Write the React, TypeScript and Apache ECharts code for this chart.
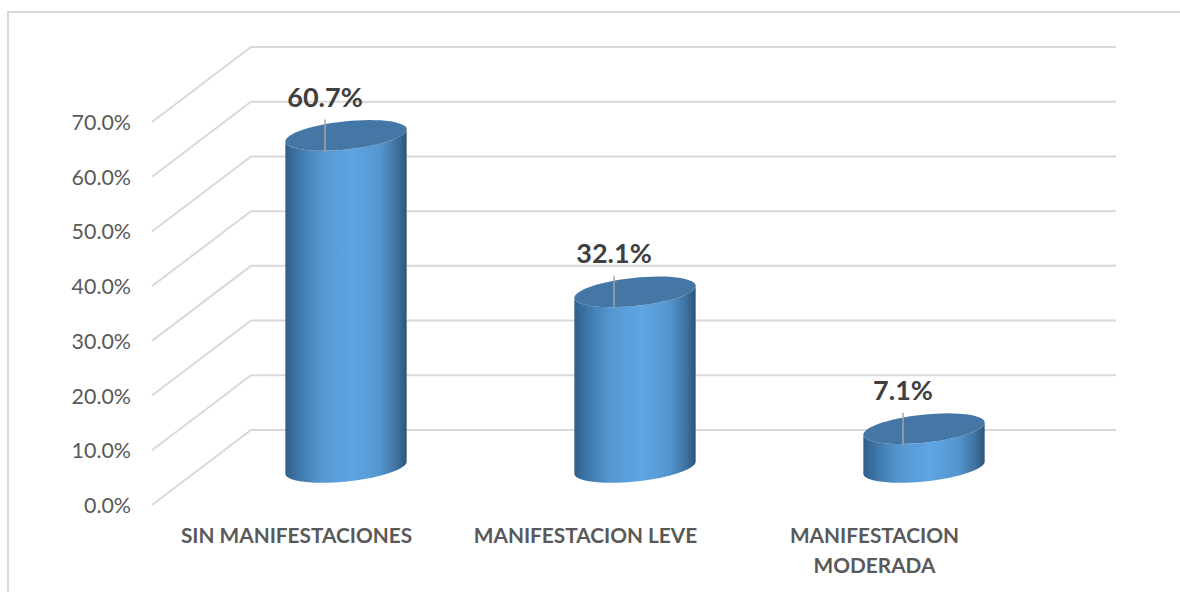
import React, { useEffect, useRef } from "react";
import * as echarts from "echarts";

const categories = ["SIN MANIFESTACIONES", "MANIFESTACION LEVE", "MANIFESTACION\nMODERADA"];
const values = [60.7, 32.1, 7.1];
const ticks = [0, 10, 20, 30, 40, 50, 60, 70];

const DEPTH_X = 99;
const DEPTH_Y = -75;
const RX = 61;
const RY = 14;
const TILT = (6 * Math.PI) / 180;

function ellipsePoint(cx: number, cy: number, t: number) {
  const a = RX * Math.cos(t);
  const b = RY * Math.sin(t);
  return [cx + a * Math.cos(TILT) + b * Math.sin(TILT), cy - a * Math.sin(TILT) + b * Math.cos(TILT)];
}

function arc(cx: number, cy: number, from: number, to: number, n = 60) {
  const pts: number[][] = [];
  for (let i = 0; i <= n; i++) pts.push(ellipsePoint(cx, cy, from + ((to - from) * i) / n));
  return pts;
}

function renderWall(params: any, api: any) {
  const cs = params.coordSys;
  const p = api.coord([0, api.value(1)]);
  const left = cs.x;
  const right = cs.x + cs.width + DEPTH_X - 2;
  return {
    type: "polyline",
    silent: true,
    shape: { points: [[left, p[1]], [left + DEPTH_X, p[1] + DEPTH_Y], [right, p[1] + DEPTH_Y]] },
    style: { stroke: "#d9d9d9", lineWidth: 2, fill: "none" },
  };
}

function renderCylinder(params: any, api: any) {
  const top = api.coord([api.value(0), api.value(1)]);
  const base = api.coord([api.value(0), 0]);
  const cx = top[0] + DEPTH_X / 2;
  const cyTop = top[1] + DEPTH_Y / 2;
  const cyBase = base[1] + DEPTH_Y / 2;
  const body = [...arc(cx, cyTop, Math.PI, 0), ...arc(cx, cyBase, 0, Math.PI)];
  const label = String(api.value(1).toFixed(1)) + "%";
  return {
    type: "group",
    children: [
      {
        type: "polygon",
        shape: { points: body },
        style: {
          fill: new echarts.graphic.LinearGradient(0, 0, 1, 0, [
            { offset: 0, color: "#2f5f8a" },
            { offset: 0.12, color: "#4079ac" },
            { offset: 0.3, color: "#5697d1" },
            { offset: 0.55, color: "#5ea5e3" },
            { offset: 0.78, color: "#5596d0" },
            { offset: 0.92, color: "#3f729f" },
            { offset: 1, color: "#2c5478" },
          ]),
        },
      },
      {
        type: "polygon",
        shape: { points: arc(cx, cyTop, 0, Math.PI * 2) },
        style: { fill: "#4577a6" },
      },
      {
        type: "line",
        shape: { x1: cx - 21, y1: cyTop - 16, x2: cx - 21, y2: cyTop + 16 },
        style: { stroke: "#a6a6a6", lineWidth: 1.5 },
      },
      {
        type: "text",
        x: cx - 21,
        y: cyTop - 39,
        style: {
          text: label,
          fill: "#404040",
          font: "bold 27px Lato",
          align: "center",
          verticalAlign: "middle",
        },
      },
    ],
  };
}

export default function App() {
  const ref = useRef<HTMLDivElement>(null);
  useEffect(() => {
    const chart = echarts.init(ref.current!, undefined, { renderer: "svg" });
    chart.setOption({
      animation: false,
      backgroundColor: "#ffffff",
      grid: { left: 152, right: 161, top: 122, bottom: 87 },
      xAxis: {
        type: "category",
        data: categories,
        axisLine: { show: false },
        axisTick: { show: false },
        axisLabel: {
          color: "#595959",
          fontFamily: "Lato",
          fontWeight: "bold",
          fontSize: 20.8,
          lineHeight: 30,
          margin: 14,
          interval: 0,
        },
      },
      yAxis: {
        type: "value",
        min: 0,
        max: 70,
        interval: 10,
        splitLine: { show: false },
        axisLine: { show: false },
        axisTick: { show: false },
        axisLabel: {
          color: "#595959",
          fontFamily: "Lato",
          fontSize: 21.4,
          margin: 21,
          formatter: (v: number) => v.toFixed(1) + "%",
        },
      },
      graphic: [
        {
          type: "polyline",
          silent: true,
          shape: { points: [[8, 592], [8, 12], [1180, 12]] },
          style: { stroke: "#d9d9d9", lineWidth: 2, fill: "none" },
        },
      ],
      series: [
        {
          type: "custom",
          z: 1,
          silent: true,
          clip: false,
          renderItem: renderWall,
          data: ticks.map((t) => [0, t]),
          encode: { x: 0, y: 1 },
        },
        {
          type: "custom",
          z: 2,
          silent: true,
          clip: false,
          renderItem: renderCylinder,
          data: values.map((v, i) => [i, v]),
          encode: { x: 0, y: 1 },
        },
      ],
    });
    return () => chart.dispose();
  }, []);
  return <div ref={ref} style={{ position: "absolute", left: 0, top: 0, width: 1180, height: 592 }} />;
}
